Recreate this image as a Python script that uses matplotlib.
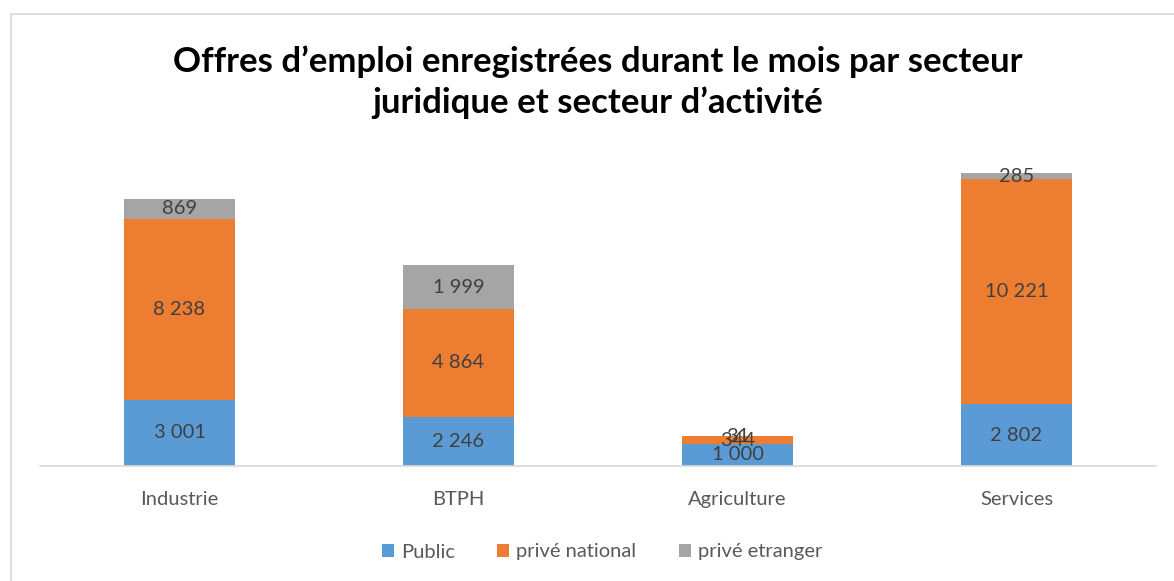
import numpy as np
import matplotlib.pyplot as plt
from matplotlib.patches import Rectangle

categories = ["Industrie", "BTPH", "Agriculture", "Services"]
public = [3001, 2246, 1000, 2802]
prive_national = [8238, 4864, 344, 10221]
prive_etranger = [869, 1999, 31, 285]
labels_public = ["3 001", "2 246", "1 000", "2 802"]
labels_national = ["8 238", "4 864", "344", "10 221"]
labels_etranger = ["869", "1 999", "31", "285"]

plt.rcParams['font.family'] = ['Lato', 'DejaVu Sans']

W, H = 1174, 581
fig = plt.figure(figsize=(W / 100, H / 100), dpi=100)
fig.patch.set_facecolor("white")

# outer chart frame
fig.add_artist(Rectangle((10.5 / W, -0.05), 1.1, (H - 13.5) / H + 0.05,
                         transform=fig.transFigure, fill=False,
                         edgecolor="#D9D9D9", linewidth=1.2))

ymax = 14000
ax_bottom = (H - 466) / H
ax_top = (H - (466 - ymax * 0.02202)) / H
ax = fig.add_axes([40 / W, ax_bottom, (1156 - 40) / W, ax_top - ax_bottom])

x = np.arange(len(categories))
width = 0.4
colors = ["#5B9BD5", "#ED7D31", "#A5A5A5"]
series = [public, prive_national, prive_etranger]
names = ["Public", "privé national", "privé etranger"]
texts = [labels_public, labels_national, labels_etranger]

bottom = np.zeros(len(categories))
for vals, col, name, labs in zip(series, colors, names, texts):
    vals = np.array(vals, dtype=float)
    ax.bar(x, vals, width, bottom=bottom, color=col, label=name)
    for xi, b, v, t in zip(x, bottom, vals, labs):
        ax.text(xi, b + v / 2, t, ha="center", va="center",
                fontsize=14.5, color="#404040")
    bottom += vals

ax.set_xlim(-0.5, len(categories) - 0.5)
ax.set_ylim(0, ymax)
ax.set_yticks([])
ax.set_xticks(x)
ax.set_xticklabels(categories, fontsize=14.5, color="#595959")
ax.tick_params(axis="x", length=0, pad=18)
for s in ["top", "right", "left"]:
    ax.spines[s].set_visible(False)
ax.spines["bottom"].set_color("#D9D9D9")
ax.spines["bottom"].set_linewidth(1.2)
ax.patch.set_alpha(0)

fig.text(598 / W, (H - 82) / H,
         "Offres d’emploi enregistrées durant le mois par secteur\njuridique et secteur d’activité",
         ha="center", va="center", fontsize=25, fontweight="bold",
         color="black", linespacing=1.32)

fig.legend(loc="center", bbox_to_anchor=(602 / W, (H - 552) / H), ncol=3,
           frameon=False, fontsize=14.5, handlelength=0.6, handleheight=0.6,
           handletextpad=0.35, columnspacing=2.1, labelcolor="#595959")

fig.savefig("out.png", dpi=100)
